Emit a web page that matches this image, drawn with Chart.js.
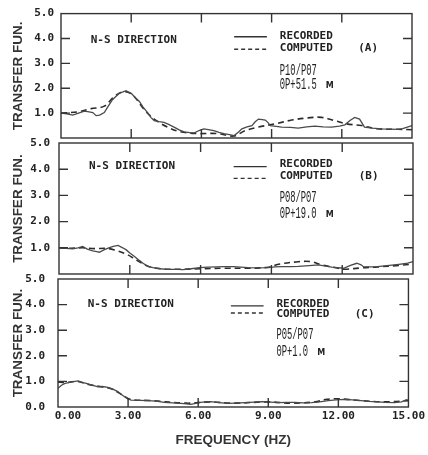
<!DOCTYPE html>
<html><head><meta charset="utf-8">
<script src="https://cdn.jsdelivr.net/npm/chart.js@4"></script>
<style>
html,body{margin:0;padding:0;background:#fff;}
#wrap{position:relative;width:428px;height:455px;background:#fff;}
#wrap canvas{position:absolute;left:0;top:0;}
</style></head><body>
<div id="wrap">
<canvas id="cA" width="428" height="455"></canvas>
<canvas id="cB" width="428" height="455"></canvas>
<canvas id="cC" width="428" height="455"></canvas>
</div>
<script>
// ---- tick values ----
const freqTicks = [0, 3, 6, 9, 12, 15];
const yTicks = [0, 1, 2, 3, 4, 5];

// ---- Panel A : P10/P07 ----
const recA_f = [0,0.25,0.5,0.75,1.0,1.2,1.36,1.5,1.65,1.85,2.0,2.2,2.4,2.5,2.65,2.78,2.9,3.0,3.2,3.35,3.5,3.7,3.85,3.98,4.2,4.4,4.6,4.83,5.05,5.26,5.5,5.7,5.9,6.1,6.3,6.53,6.75,6.96,7.2,7.4,7.6,7.73,7.95,8.16,8.3,8.44,8.6,8.73,8.85,8.94,9.2,9.43,9.8,10.14,10.5,10.85,11.2,11.56,11.9,12.13,12.35,12.55,12.76,12.97,13.3,13.7,14.0,14.4,14.6,14.8,15];
const recA_v = [1.0,0.97,0.92,1.0,1.08,1.05,1.02,0.9,0.92,1.02,1.25,1.54,1.72,1.8,1.85,1.9,1.84,1.8,1.6,1.47,1.25,1.02,0.82,0.7,0.66,0.63,0.55,0.44,0.33,0.25,0.22,0.21,0.3,0.37,0.34,0.3,0.23,0.18,0.14,0.1,0.25,0.37,0.45,0.5,0.65,0.76,0.74,0.72,0.62,0.5,0.47,0.44,0.43,0.4,0.45,0.48,0.45,0.44,0.48,0.53,0.7,0.83,0.76,0.44,0.4,0.37,0.36,0.35,0.38,0.44,0.5];
const cmpA_f = [0,0.72,1.29,1.85,2.28,2.7,3.06,3.55,3.98,4.55,5.1,5.8,6.67,7.38,7.88,8.44,9.15,9.86,10.57,11.13,11.7,12.2,12.83,13.5,14.4,15];
const cmpA_v = [1.0,1.05,1.18,1.28,1.67,1.86,1.73,1.15,0.76,0.44,0.25,0.18,0.18,0.08,0.3,0.44,0.57,0.72,0.81,0.83,0.7,0.57,0.5,0.37,0.35,0.33];

// ---- Panel B : P08/P07 ----
const recB_f = [0,0.3,0.58,0.8,1.0,1.2,1.43,1.6,1.71,1.9,2.14,2.3,2.5,2.7,2.85,3.0,3.2,3.4,3.56,3.75,3.98,4.3,4.55,5.0,5.26,5.6,5.96,6.3,6.67,7.0,7.38,7.7,8.02,8.4,8.87,9.15,9.43,9.8,10.14,10.6,10.99,11.3,11.56,11.8,12.06,12.35,12.62,12.8,12.9,13.2,13.5,13.9,14.4,14.7,15];
const recB_v = [1.0,0.98,0.96,1.0,1.05,0.95,0.88,0.85,0.83,0.92,1.01,1.05,1.09,1.0,0.92,0.8,0.67,0.52,0.41,0.3,0.24,0.2,0.18,0.18,0.17,0.2,0.24,0.26,0.27,0.28,0.28,0.26,0.24,0.23,0.24,0.27,0.28,0.28,0.29,0.32,0.35,0.3,0.26,0.24,0.22,0.33,0.41,0.35,0.28,0.27,0.28,0.32,0.37,0.4,0.47];
const cmpB_f = [0,0.5,1.0,1.5,2.0,2.35,2.85,3.27,3.7,4.12,5.0,6.0,7.0,8.0,8.87,9.3,10.14,10.7,11.13,11.84,12.1,12.9,13.5,14.4,15];
const cmpB_v = [1.0,0.98,1.0,0.97,0.98,0.92,0.76,0.54,0.32,0.22,0.18,0.2,0.22,0.22,0.26,0.37,0.47,0.47,0.35,0.22,0.18,0.24,0.27,0.33,0.38];

// ---- Panel C : P05/P07 ----
const recC_f = [0,0.15,0.3,0.6,0.86,1.0,1.29,1.5,1.71,1.9,2.14,2.35,2.56,2.7,2.85,3.0,3.13,3.5,3.84,4.2,4.55,4.9,5.26,5.5,5.68,5.9,6.1,6.3,6.53,6.9,7.24,7.6,8.02,8.4,8.73,9.1,9.43,9.8,10.14,10.5,10.85,11.2,11.56,11.9,12.27,12.6,12.97,13.3,13.7,14.0,14.4,14.7,14.96];
const recC_v = [0.73,0.85,0.92,0.98,1.02,0.97,0.9,0.84,0.79,0.8,0.77,0.7,0.6,0.5,0.4,0.32,0.27,0.26,0.25,0.23,0.18,0.16,0.14,0.12,0.1,0.14,0.18,0.2,0.21,0.17,0.14,0.15,0.17,0.19,0.21,0.19,0.17,0.18,0.18,0.16,0.17,0.2,0.25,0.28,0.3,0.28,0.25,0.22,0.2,0.18,0.17,0.2,0.3];
const cmpC_f = [0,0.3,0.8,1.3,1.8,2.3,2.7,3.1,4.0,5.5,6.5,7.5,9.0,10.0,11.0,11.5,12.0,13.0,14.0,15.0];
const cmpC_v = [0.98,0.95,1.0,0.88,0.8,0.7,0.5,0.3,0.25,0.15,0.2,0.15,0.2,0.15,0.2,0.3,0.32,0.25,0.2,0.25];

const MONO = '"DejaVu Sans Mono", monospace';
const SANS = '"Liberation Sans", Arial, sans-serif';
const NARROW = '"Liberation Mono", monospace';
const INK = '#222';

function pts(f, v) { return f.map((x, i) => ({x: x, y: v[i]})); }

const panels = [
  { id:'cA', rec:[recA_f,recA_v], cmp:[cmpA_f,cmpA_v], letter:'(A)', ratio:'P10/P07', elev:'0P+51.5',
    geo:{left:61,right:412,top:9,bottom:138,lp:7},
    ann:{ns:3.95, ls:4.07, lr:4.1, ld:3.57, lc:3.6, rat:2.71, el:2.13} },
  { id:'cB', rec:[recB_f,recB_v], cmp:[cmpB_f,cmpB_v], letter:'(B)', ratio:'P08/P07', elev:'0P+19.0',
    geo:{left:59,right:413,top:143,bottom:274,lp:9},
    ann:{ns:4.1, ls:4.1, lr:4.2, ld:3.65, lc:3.73, rat:2.92, el:2.3} },
  { id:'cC', rec:[recC_f,recC_v], cmp:[cmpC_f,cmpC_v], letter:'(C)', ratio:'P05/P07', elev:'0P+1.0',
    geo:{left:58,right:411,top:279,bottom:407,lp:13}, bottomAxis:true,
    ann:{ns:4.02, ls:3.95, lr:4.02, ld:3.67, lc:3.63, rat:2.81, el:2.15} }
];

const framePlugin = {
  id: 'frame',
  afterDatasetsDraw(chart, args, o) {
    const p = o.panel;
    const {ctx, chartArea: a, scales: {x, y}} = chart;
    ctx.save();
    ctx.strokeStyle = '#333';
    ctx.lineWidth = 1.4;
    ctx.strokeRect(a.left, a.top, a.right - a.left, a.bottom - a.top);
    ctx.beginPath();
    freqTicks.slice(1, -1).forEach(f => {
      const px = x.getPixelForValue(f);
      ctx.moveTo(px, a.top); ctx.lineTo(px, a.top + 9);
      ctx.moveTo(px, a.bottom); ctx.lineTo(px, a.bottom - 9);
    });
    yTicks.slice(1, -1).forEach(v => {
      const py = y.getPixelForValue(v);
      ctx.moveTo(a.left, py); ctx.lineTo(a.left + 9, py);
      ctx.moveTo(a.right, py); ctx.lineTo(a.right - 9, py);
    });
    ctx.stroke();

    // annotations
    const A = p.ann;
    ctx.fillStyle = INK;
    ctx.textBaseline = 'middle';
    ctx.textAlign = 'left';
    ctx.font = 'bold 11px ' + MONO;
    ctx.fillText('N-S DIRECTION', x.getPixelForValue(1.27), y.getPixelForValue(A.ns));
    ctx.fillText('RECORDED', x.getPixelForValue(9.35), y.getPixelForValue(A.lr));
    ctx.fillText('COMPUTED', x.getPixelForValue(9.35), y.getPixelForValue(A.lc));
    ctx.fillText(p.letter, x.getPixelForValue(12.7), y.getPixelForValue(A.lc));
    // legend samples
    const lx0 = x.getPixelForValue(7.4), lx1 = x.getPixelForValue(8.8);
    ctx.strokeStyle = '#333';
    ctx.lineWidth = 1.4;
    ctx.beginPath();
    ctx.moveTo(lx0, y.getPixelForValue(A.ls)); ctx.lineTo(lx1, y.getPixelForValue(A.ls));
    ctx.stroke();
    ctx.setLineDash([4, 3]);
    ctx.beginPath();
    ctx.moveTo(lx0, y.getPixelForValue(A.ld)); ctx.lineTo(lx1, y.getPixelForValue(A.ld));
    ctx.stroke();
    ctx.setLineDash([]);
    // station ratio & elevation (condensed text)
    const tx = x.getPixelForValue(9.35);
    const sx = 0.55;
    ctx.font = '16px ' + NARROW;
    ctx.save(); ctx.translate(tx, y.getPixelForValue(A.rat)); ctx.scale(sx, 1);
    ctx.fillText(p.ratio, 0, 0); ctx.restore();
    ctx.save(); ctx.translate(tx, y.getPixelForValue(A.el)); ctx.scale(sx, 1);
    ctx.fillText(p.elev, 0, 0);
    const w = ctx.measureText(p.elev).width * sx;
    ctx.restore();
    ctx.font = 'bold 8px "DejaVu Sans", sans-serif';
    ctx.fillText('M', tx + w + 9, y.getPixelForValue(A.el) + 1);
    ctx.restore();
  }
};

panels.forEach(p => {
  const g = p.geo;
  const isC = !!p.bottomAxis;
  new Chart(document.getElementById(p.id), {
    type: 'line',
    data: {
      datasets: [
        { label: 'RECORDED', data: pts(p.rec[0], p.rec[1]), borderColor: '#4a4a4a', borderWidth: 1.3,
          pointRadius: 0, tension: 0, fill: false },
        { label: 'COMPUTED', data: pts(p.cmp[0], p.cmp[1]), borderColor: '#2b2b2b', borderWidth: 1.6,
          borderDash: [6, 4], pointRadius: 0, tension: 0.35, fill: false }
      ]
    },
    options: {
      responsive: false, animation: false, devicePixelRatio: 1,
      layout: { padding: { left: 0, right: 428 - g.right, top: g.top, bottom: isC ? 0 : 455 - g.bottom } },
      plugins: { legend: { display: false }, tooltip: { enabled: false }, frame: { panel: p } },
      scales: {
        x: {
          type: 'linear', min: 0, max: 15, display: isC,
          afterFit(s) { if (isC) s.height = 455 - g.bottom; else s.height = 0; },
          afterBuildTicks(s) { s.ticks = freqTicks.map(v => ({ value: v })); },
          grid: { display: false, drawTicks: false }, border: { display: false },
          ticks: { font: { family: MONO, size: 11, weight: 'bold' }, color: INK, padding: 3,
                   maxRotation: 0, autoSkip: false,
                   callback: v => v === 0 ? '   0.00' : Number(v).toFixed(2) },
          title: { display: true, text: 'FREQUENCY (HZ)', color: '#333',
                   font: { family: SANS, size: 13.5, weight: 'bold' }, padding: { top: 0, bottom: 7 } }
        },
        y: {
          type: 'linear', min: 0, max: 5,
          afterFit(s) { s.width = g.left; },
          afterBuildTicks(s) { s.ticks = yTicks.map(v => ({ value: v })); },
          grid: { display: false, drawTicks: false }, border: { display: false },
          ticks: { font: { family: MONO, size: 11, weight: 'bold' }, color: INK, padding: g.lp,
                   callback: v => (v === 0 && !isC) ? '' : Number(v).toFixed(1) },
          title: { display: true, text: 'TRANSFER FUN.', color: '#333',
                   font: { family: SANS, size: 13.5, weight: 'bold' }, padding: { top: 10, bottom: 0 } }
        }
      }
    },
    plugins: [framePlugin]
  });
});
</script>
</body></html>
